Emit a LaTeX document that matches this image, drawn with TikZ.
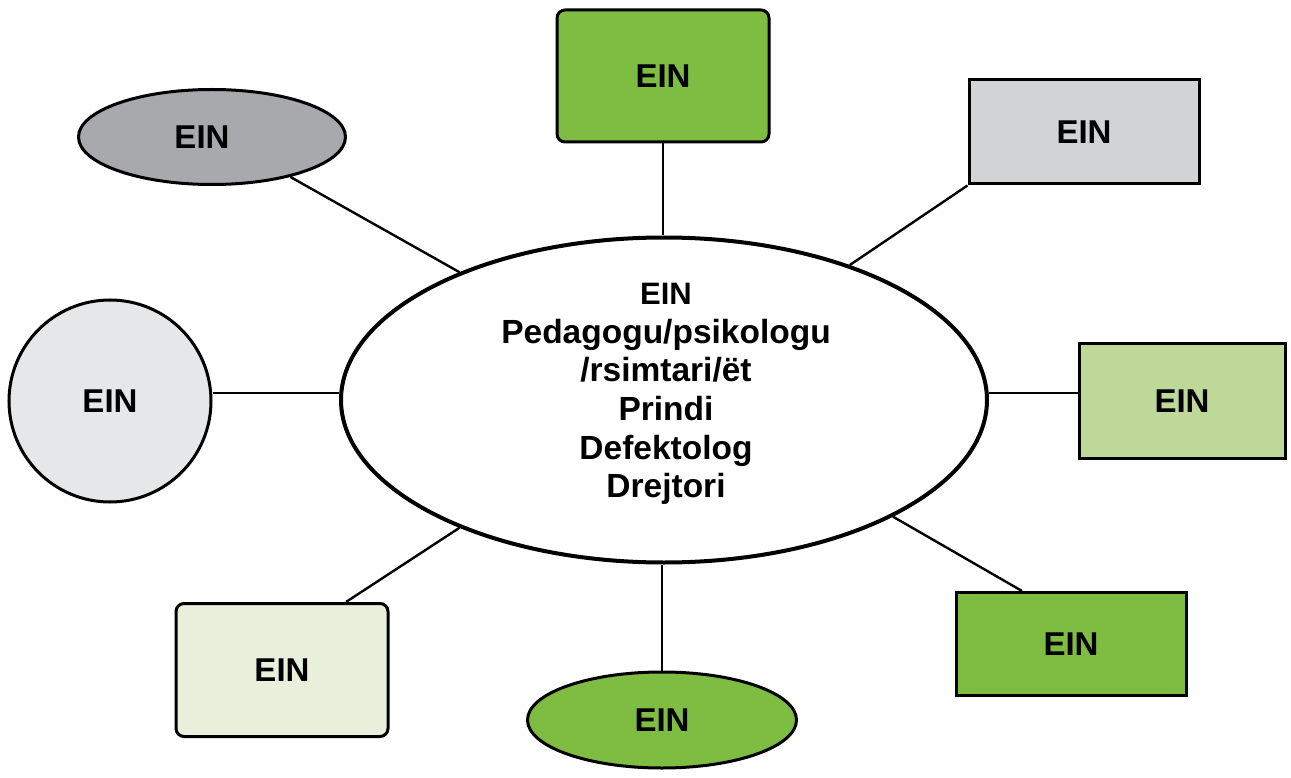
\documentclass[tikz,border=0pt]{standalone}
\usepackage{fontspec}
\setmainfont{Liberation Sans}
\usetikzlibrary{shapes.geometric}
\definecolor{gA}{HTML}{7FBD42}
\definecolor{gB}{HTML}{BDD898}
\definecolor{gC}{HTML}{E8F0DC}
\definecolor{grA}{HTML}{D1D3D4}
\definecolor{grB}{HTML}{A7A9AC}
\definecolor{grC}{HTML}{E6E7E8}
\tikzset{
  every node/.style={font=\fontsize{33}{38.5}\selectfont\bfseries, inner sep=0pt, align=center},
  box/.style={draw, line width=3pt, rectangle},
  oval/.style={draw, line width=3pt, ellipse},
  link/.style={line width=2.4pt}
}
\begin{document}
\begin{tikzpicture}[x=1pt,y=-1pt]
\useasboundingbox (0,0) rectangle (1291,778);
\node[oval, line width=4pt, fill=white, minimum width=646pt, minimum height=325pt] (m) at (664,400) {};
\node[font=\fontsize{33.5}{38.7}\selectfont\bfseries] (mt) at (666,394) {{\fontsize{31}{38.7}\selectfont EIN}\\Pedagogu/psikologu\\/rsimtari/ët\\Prindi\\Defektolog\\Drejtori};
\node[box, fill=gA, rounded corners=8pt, minimum width=212pt, minimum height=132pt] (t) at (663,76) {EIN};
\node[box, fill=grA, minimum width=230pt, minimum height=104pt] (tr) at (1084,132) {EIN};
\node[box, fill=gB, minimum width=206pt, minimum height=115pt] (r) at (1182,401) {EIN};
\node[box, fill=gA, minimum width=230pt, minimum height=103pt] (br) at (1071,644) {EIN};
\node[oval, fill=gA, minimum width=269pt, minimum height=96pt] (b) at (662,720) {EIN};
\node[box, fill=gC, rounded corners=8pt, minimum width=212pt, minimum height=133pt] (bl) at (282,670) {EIN};
\node[draw, line width=3pt, circle, fill=grC, minimum size=202pt] (l) at (110,401) {EIN};
\node[oval, fill=grB, minimum width=267pt, minimum height=95pt] (tl) at (212,137) {EIN\hspace*{20pt}};
\draw[link] (t.south) -- (t.south |- m.north);
\draw[link] (tr.south west) -- (m.36.4);
\draw[link] (r.west |- 0,393) -- (m.east |- 0,393);
\draw[link] ([xshift=-49pt]br.north) -- (m.-27.3);
\draw[link] (b.north) -- (b.north |- m.south);
\draw[link] ([xshift=64pt]bl.north) -- (m.212);
\draw[link] (l.east |- 0,393) -- (m.west |- 0,393);
\draw[link] (tl.-27) -- (m.148.2);
\end{tikzpicture}
\end{document}
